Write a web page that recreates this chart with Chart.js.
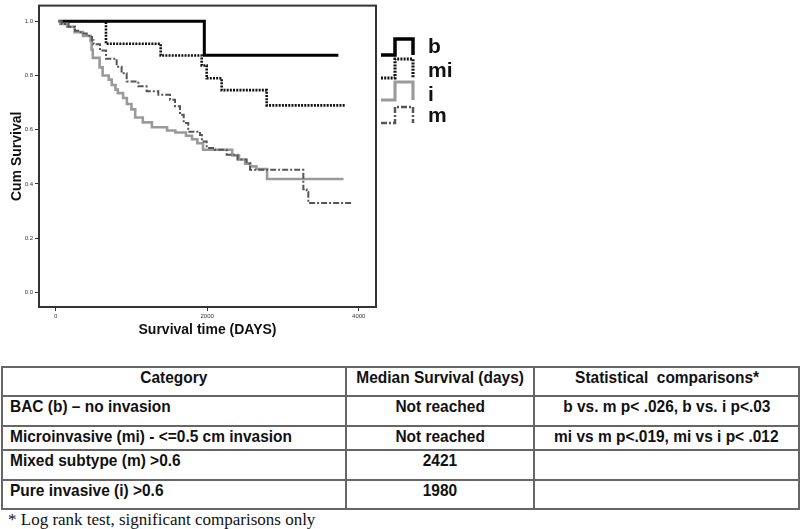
<!DOCTYPE html>
<html><head><meta charset="utf-8">
<script src="https://cdn.jsdelivr.net/npm/chart.js@4"></script>
<style>
html,body{margin:0;padding:0;background:#fff;width:800px;height:529px;overflow:hidden;position:relative;}
#c{position:absolute;left:0;top:0;}
table{position:absolute;left:1px;top:366px;border-collapse:collapse;table-layout:fixed;font-family:"Liberation Sans",Arial,sans-serif;font-weight:bold;font-size:17px;color:#111;}
td{border:2px solid #666;padding:0;vertical-align:top;line-height:20px;white-space:nowrap;overflow:visible;}
td span{display:inline-block;transform:scaleX(0.91);}
td.l{padding-left:7px;} td.l span{transform-origin:left center;}
td.c{text-align:center;} td.c span{transform-origin:center center;}
#foot{position:absolute;left:8px;top:510px;font-family:"Liberation Serif","Times New Roman",serif;font-size:17px;line-height:20px;color:#111;white-space:nowrap;}
</style></head><body>
<canvas id="c" width="480" height="345"></canvas>
<table id="tbl"><colgroup><col style="width:345px"><col style="width:188px"><col style="width:265px"></colgroup><tbody></tbody></table>
<div id="foot">* Log rank test, significant comparisons only</div>
<script>
// ---- data ----
const seriesLabels = ['b', 'mi', 'i', 'm'];
const bTime = [40, 1962, 3731];
const bSurv = [1.0, 0.875, 0.875];
const miTime = [40, 664, 1386, 1927, 1993, 2191, 2785, 3819];
const miSurv = [1.0, 0.917, 0.874, 0.837, 0.79, 0.746, 0.69, 0.69];
const iTime = [40, 60, 150, 250, 360, 460, 475, 490, 580, 620, 700, 740, 790, 820, 890, 940, 1000, 1050, 1150, 1270, 1470, 1580, 1720, 1800, 1870, 1945, 2330, 2420, 2500, 2570, 2650, 2790, 3800];
const iSurv = [1, 0.99, 0.98, 0.96, 0.946, 0.928, 0.895, 0.865, 0.83, 0.80, 0.785, 0.765, 0.748, 0.735, 0.717, 0.695, 0.675, 0.645, 0.627, 0.609, 0.597, 0.59, 0.578, 0.565, 0.55, 0.526, 0.505, 0.49, 0.475, 0.465, 0.455, 0.418, 0.418];
const mTime = [40, 80, 170, 255, 330, 410, 480, 500, 585, 665, 805, 870, 937, 1091, 1200, 1355, 1509, 1575, 1641, 1690, 1750, 1905, 1930, 1993, 2100, 2257, 2400, 2521, 2565, 3269, 3313, 3335, 3920];
const mSurv = [1, 0.99, 0.98, 0.965, 0.955, 0.947, 0.93, 0.915, 0.892, 0.862, 0.832, 0.808, 0.778, 0.76, 0.742, 0.729, 0.711, 0.687, 0.655, 0.625, 0.593, 0.581, 0.557, 0.533, 0.526, 0.508, 0.49, 0.475, 0.452, 0.38, 0.37, 0.33, 0.33];
const xTicks = [0, 2000, 4000];
const yTicks = [0, 0.2, 0.4, 0.6, 0.8, 1.0];

const tableHeader = ['Category', 'Median Survival (days)', 'Statistical  comparisons*'];
const categories = ['BAC (b) \u2013 no invasion', 'Microinvasive (mi) - <=0.5 cm invasion', 'Mixed subtype (m) >0.6', 'Pure invasive (i) >0.6'];
const medians = ['Not reached', 'Not reached', '2421', '1980'];
const comparisons = ['b vs. m p< .026, b vs. i p<.03', 'mi vs m p<.019, mi vs i p< .012', '', ''];

// ---- table ----
const rowH = [29, 30, 24, 30, 29];
const tb = document.querySelector('#tbl tbody');
function addRow(cells, h, isHeader) {
  const tr = document.createElement('tr');
  tr.style.height = h + 'px';
  cells.forEach((t, k) => {
    const td = document.createElement('td');
    td.className = (k === 0 && !isHeader) ? 'l' : 'c';
    const sp = document.createElement('span');
    sp.textContent = t;
    sp.style.whiteSpace = 'pre';
    td.appendChild(sp);
    tr.appendChild(td);
  });
  tb.appendChild(tr);
}
addRow(tableHeader, rowH[0], true);
categories.forEach((c, r) => addRow([c, medians[r], comparisons[r]], rowH[r + 1], false));

// ---- chart ----
const pts = (t, s) => t.map((v, k) => ({x: v, y: s[k]}));
const styles = [
  {color: '#000', width: 3, dash: []},
  {color: '#111', width: 2.6, dash: [2, 1.2]},
  {color: '#9a9a9a', width: 2.6, dash: []},
  {color: '#555', width: 2, dash: [6, 2, 2, 2]}
];
const series = [pts(bTime, bSurv), pts(miTime, miSurv), pts(iTime, iSurv), pts(mTime, mSurv)];
const datasets = series.map((d, k) => ({
  label: seriesLabels[k], data: d, stepped: 'before',
  borderColor: styles[k].color, borderWidth: styles[k].width, borderDash: styles[k].dash,
  pointRadius: 0, fill: false, tension: 0
}));
datasets.reverse();

const framePlugin = {id: 'frame', afterDatasetsDraw(chart) {
  const {ctx, chartArea: a} = chart;
  ctx.save(); ctx.strokeStyle = '#333'; ctx.lineWidth = 2;
  ctx.strokeRect(a.left, a.top, a.right - a.left, a.bottom - a.top);
  ctx.restore();
}};
const legendPlugin = {id: 'stepLegend', afterDraw(chart) {
  const ctx = chart.ctx;
  const low = [55, 78, 100, 123], high = [39, 59, 82, 107], ly = [47, 71, 95, 116];
  seriesLabels.forEach((lab, k) => {
    const ds = chart.data.datasets.find(d => d.label === lab);
    ctx.save();
    ctx.strokeStyle = ds.borderColor; ctx.lineWidth = ds.borderWidth + 0.5;
    ctx.setLineDash(ds.borderDash || []);
    ctx.beginPath();
    ctx.moveTo(381, low[k]); ctx.lineTo(395, low[k]); ctx.lineTo(395, high[k]);
    ctx.lineTo(413, high[k]); ctx.lineTo(413, low[k]);
    ctx.stroke();
    ctx.setLineDash([]);
    ctx.fillStyle = '#111'; ctx.font = 'bold 21px "Liberation Sans", Arial, sans-serif';
    ctx.textBaseline = 'middle'; ctx.textAlign = 'left';
    ctx.fillText(lab, 428, ly[k]);
    ctx.restore();
  });
}};

new Chart(document.getElementById('c'), {
  type: 'line',
  data: {datasets},
  plugins: [framePlugin, legendPlugin],
  options: {
    responsive: false, animation: false, devicePixelRatio: 1,
    layout: {padding: {left: 0, top: 1, right: 104, bottom: 0}},
    plugins: {legend: {display: false}, tooltip: {enabled: false}},
    scales: {
      x: {
        type: 'linear', min: -220, max: 4228,
        afterBuildTicks: s => { s.ticks = xTicks.map(v => ({value: v})); },
        afterFit: s => { s.height = 38; },
        grid: {drawOnChartArea: false, tickLength: 4, color: '#333', lineWidth: 1},
        border: {display: false},
        ticks: {font: {size: 6, family: 'Liberation Sans'}, color: '#333', padding: 2, maxRotation: 0, autoSkip: false, callback: v => String(v)},
        title: {display: true, text: 'Survival time (DAYS)', font: {size: 14, weight: 'bold', family: 'Liberation Sans'}, color: '#111', padding: {top: 0, bottom: 6}}
      },
      y: {
        type: 'linear', min: -0.054, max: 1.058,
        afterBuildTicks: s => { s.ticks = yTicks.map(v => ({value: v})); },
        afterFit: s => { s.width = 39; },
        grid: {drawOnChartArea: false, tickLength: 4, color: '#333', lineWidth: 1},
        border: {display: false},
        ticks: {font: {size: 6, family: 'Liberation Sans'}, color: '#333', padding: 2, autoSkip: false, callback: v => Number(v).toFixed(1)},
        title: {display: true, text: 'Cum Survival', font: {size: 14, weight: 'bold', family: 'Liberation Sans'}, color: '#111', padding: {top: 9, bottom: 0}}
      }
    }
  }
});
</script>
</body></html>
